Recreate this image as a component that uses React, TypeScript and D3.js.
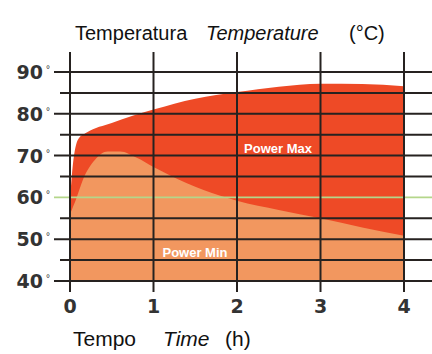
import React from "react";
import * as d3 from "d3";

const W = 432;
const H = 354;

const yTicksMajor = [40, 50, 60, 70, 80, 90];
const yTicksMinor = [45, 55, 65, 75, 85];
const xTicks = [0, 1, 2, 3, 4];
const greenLevel = 60;

const maxTime = [0, 0.03, 0.1, 0.2, 0.5, 1, 1.5, 2, 2.5, 3, 3.5, 4];
const maxTemp = [59, 67, 74, 75.5, 77.8, 81, 83.6, 85.2, 86.5, 87.2, 87.1, 86.6];

const minTime = [0, 0.08, 0.15, 0.3, 0.45, 0.6, 0.8, 1, 1.4, 1.8, 2, 2.5, 3, 3.5, 4];
const minTemp = [56, 60, 64, 69, 71, 71, 69.5, 67.3, 63.4, 60.4, 59.2, 57, 55, 52.8, 50.8];

const labelMax = "Power Max";
const labelMin = "Power Min";

export default function App() {
  const x = d3.scaleLinear().domain([0, 4]).range([70, 404]);
  const y = d3.scaleLinear().domain([40, 90]).range([281, 72]);

  const area = d3
    .area<[number, number]>()
    .x((d) => x(d[0]))
    .y0(y(40))
    .y1((d) => y(d[1]))
    .curve(d3.curveMonotoneX);

  const maxPts: [number, number][] = maxTime.map((t, i) => [t, maxTemp[i]]);
  const minPts: [number, number][] = minTime.map((t, i) => [t, minTemp[i]]);

  const lineColor = "#262220";
  const font = "'Liberation Sans', Arial, sans-serif";

  return (
    <svg
      width={W}
      height={H}
      style={{ position: "absolute", left: 0, top: 0, background: "#fff" }}
    >
      <path d={area(maxPts) || ""} fill="#ee4a26" />
      <path d={area(minPts) || ""} fill="#f2975f" />

      {yTicksMinor.map((v) => (
        <line key={"mi" + v} x1={60} x2={W} y1={y(v)} y2={y(v)} stroke={lineColor} strokeWidth={2} />
      ))}
      {yTicksMajor
        .filter((v) => v !== greenLevel)
        .map((v) => (
          <line key={"ma" + v} x1={54} x2={W} y1={y(v)} y2={y(v)} stroke={lineColor} strokeWidth={2} />
        ))}
      <line x1={54} x2={W} y1={y(greenLevel)} y2={y(greenLevel)} stroke="#b4d68a" strokeWidth={1.6} />

      {xTicks.map((t) => (
        <line key={"v" + t} x1={x(t)} x2={x(t)} y1={52} y2={292} stroke={lineColor} strokeWidth={2} />
      ))}

      {yTicksMajor.map((v) => (
        <g key={"yl" + v}>
          <text
            x={43}
            y={y(v) + 7}
            textAnchor="end"
            fontFamily="'DejaVu Sans', sans-serif"
            fontWeight="bold"
            fontSize={19}
            fill="#333"
          >
            {v}
          </text>
          <text x={46} y={y(v) + 1} fontFamily={font} fontSize={10} fill="#333">
            °
          </text>
        </g>
      ))}

      {xTicks.map((t) => (
        <text
          key={"xl" + t}
          x={x(t)}
          y={313}
          textAnchor="middle"
          fontFamily="'DejaVu Sans', sans-serif"
          fontWeight="bold"
          fontSize={19}
          fill="#333"
        >
          {t}
        </text>
      ))}

      <text x={278} y={153} textAnchor="middle" fontFamily={font} fontWeight="bold" fontSize={13} fill="#fff">
        {labelMax}
      </text>
      <text x={195} y={257} textAnchor="middle" fontFamily={font} fontWeight="bold" fontSize={13} fill="#fff">
        {labelMin}
      </text>

      <text x={75} y={40} fontFamily={font} fontSize={20} fill="#111">Temperatura</text>
      <text x={206} y={40} fontFamily={font} fontSize={20} fontStyle="italic" fill="#111">Temperature</text>
      <text x={349} y={40} fontFamily={font} fontSize={20} fill="#111">(°C)</text>

      <text x={73} y={346} fontFamily={font} fontSize={21} fill="#111">Tempo</text>
      <text x={163} y={346} fontFamily={font} fontSize={21} fontStyle="italic" fill="#111">Time</text>
      <text x={225} y={346} fontFamily={font} fontSize={21} fill="#111">(h)</text>
    </svg>
  );
}
